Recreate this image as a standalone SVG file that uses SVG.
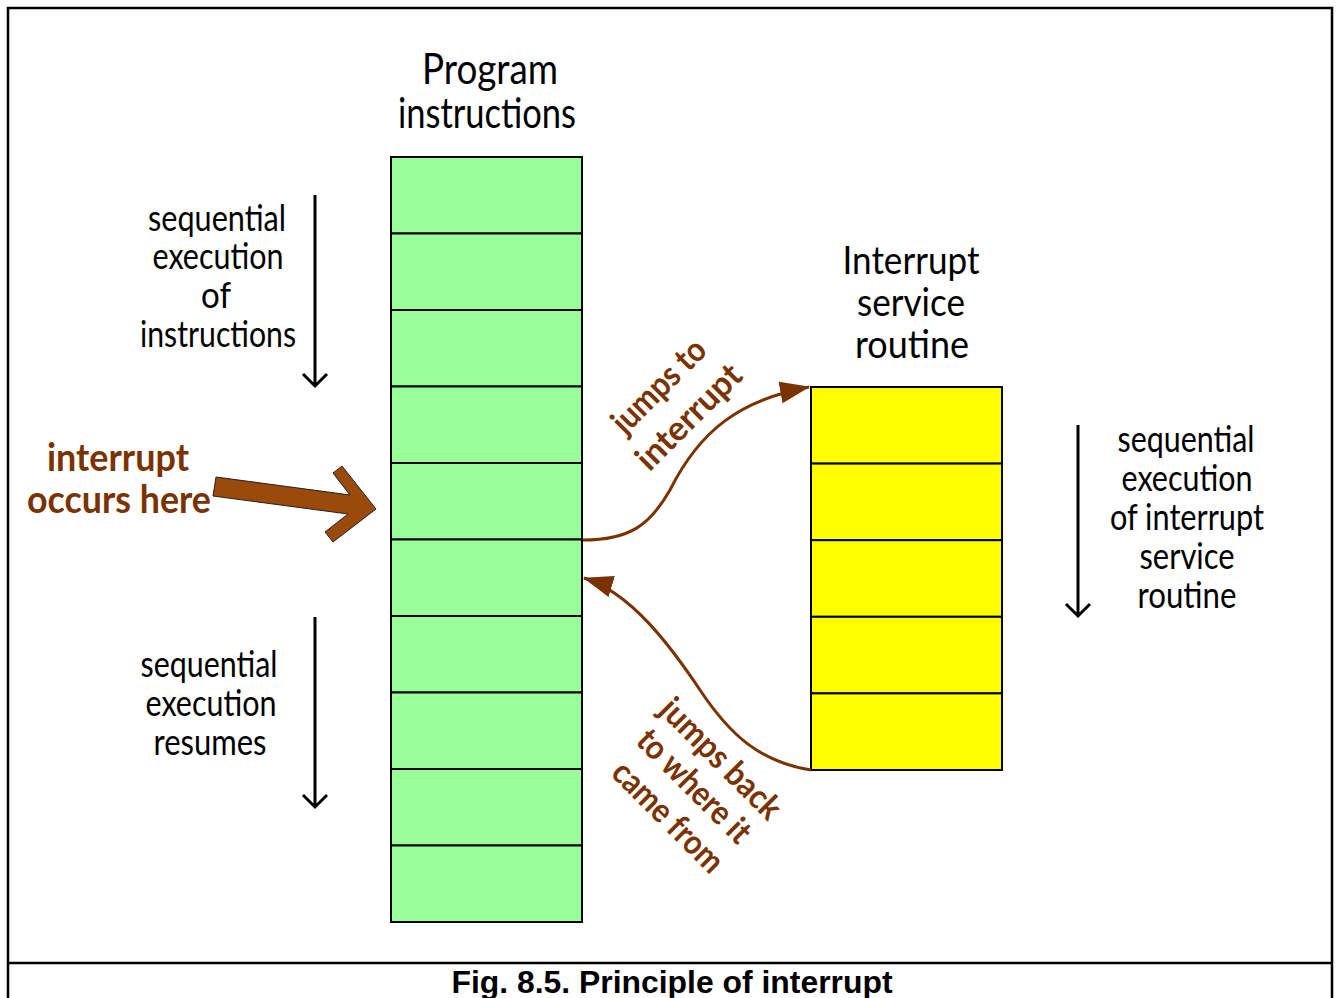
<svg xmlns="http://www.w3.org/2000/svg" width="1336" height="998" viewBox="0 0 1336 998">
<style>
.t{font-family:Lato,"Open Sans","Liberation Sans",sans-serif;fill:#000;text-anchor:middle}
.b{font-family:Lato,"Open Sans","Liberation Sans",sans-serif;fill:#7a3300;font-weight:bold;text-anchor:middle}
.g{fill:#99ff99;stroke:#000;stroke-width:2}
.y{fill:#ffff00;stroke:#000;stroke-width:2}
.ar{fill:none;stroke:#000;stroke-width:3}
.cv{fill:none;stroke:#7a3300;stroke-width:3}
</style>
<defs>
<marker id="bh" markerUnits="userSpaceOnUse" markerWidth="32" markerHeight="24" refX="29" refY="11" orient="auto">
<path d="M0,0 L30,11 L0,22 z" fill="#7a3300"/>
</marker>
</defs>
<rect width="1336" height="998" fill="#fff"/>
<g id="frame" fill="none" stroke="#000" stroke-width="2.5">
<path d="M8,998 V8 H1332 V998"/>
<path d="M8,963 H1332"/>
</g>
<g id="caption">
<text x="672" y="993" font-family="Liberation Sans,Arial,sans-serif" font-weight="bold" font-size="31" text-anchor="middle" textLength="441" lengthAdjust="spacingAndGlyphs">Fig. 8.5. Principle of interrupt</text>
</g>
<g id="program">
<rect class="g" x="391" y="157" width="191" height="76.5"/>
<rect class="g" x="391" y="233.5" width="191" height="76.5"/>
<rect class="g" x="391" y="310" width="191" height="76.5"/>
<rect class="g" x="391" y="386.5" width="191" height="76.5"/>
<rect class="g" x="391" y="463" width="191" height="76.5"/>
<rect class="g" x="391" y="539.5" width="191" height="76.5"/>
<rect class="g" x="391" y="616" width="191" height="76.5"/>
<rect class="g" x="391" y="692.5" width="191" height="76.5"/>
<rect class="g" x="391" y="769" width="191" height="76.5"/>
<rect class="g" x="391" y="845.5" width="191" height="76.5"/>
<text class="t" x="490" y="84" font-size="42" textLength="136" lengthAdjust="spacingAndGlyphs">Program</text>
<text class="t" x="487" y="128" font-size="42" textLength="178" lengthAdjust="spacingAndGlyphs">instructions</text>
</g>
<g id="isr">
<rect class="y" x="811" y="387" width="191" height="76.6"/>
<rect class="y" x="811" y="463.6" width="191" height="76.6"/>
<rect class="y" x="811" y="540.2" width="191" height="76.6"/>
<rect class="y" x="811" y="616.8" width="191" height="76.6"/>
<rect class="y" x="811" y="693.4" width="191" height="76.6"/>
<text class="t" x="911" y="274" font-size="39" textLength="137" lengthAdjust="spacingAndGlyphs">Interrupt</text>
<text class="t" x="911" y="316" font-size="39" textLength="108" lengthAdjust="spacingAndGlyphs">service</text>
<text class="t" x="912" y="358" font-size="39" textLength="114" lengthAdjust="spacingAndGlyphs">routine</text>
</g>
<g id="seq-top">
<text class="t" x="217" y="231" font-size="37" textLength="138" lengthAdjust="spacingAndGlyphs">sequential</text>
<text class="t" x="218" y="269" font-size="37" textLength="131" lengthAdjust="spacingAndGlyphs">execution</text>
<text class="t" x="216" y="308" font-size="37" textLength="30" lengthAdjust="spacingAndGlyphs">of</text>
<text class="t" x="218" y="347" font-size="37" textLength="156" lengthAdjust="spacingAndGlyphs">instructions</text>
<path class="ar" d="M315,195 V386 M303,374 L315,386 L327,374"/>
</g>
<g id="seq-bottom">
<text class="t" x="209" y="677" font-size="37" textLength="137" lengthAdjust="spacingAndGlyphs">sequential</text>
<text class="t" x="211" y="716" font-size="37" textLength="131" lengthAdjust="spacingAndGlyphs">execution</text>
<text class="t" x="210" y="755" font-size="37" textLength="113" lengthAdjust="spacingAndGlyphs">resumes</text>
<path class="ar" d="M315,617 V807 M303,795 L315,807 L327,795"/>
</g>
<g id="seq-isr">
<text class="t" x="1186" y="452" font-size="37" textLength="137" lengthAdjust="spacingAndGlyphs">sequential</text>
<text class="t" x="1187" y="491" font-size="37" textLength="131" lengthAdjust="spacingAndGlyphs">execution</text>
<text class="t" x="1187" y="530" font-size="37" textLength="154" lengthAdjust="spacingAndGlyphs">of interrupt</text>
<text class="t" x="1187" y="569" font-size="37" textLength="95" lengthAdjust="spacingAndGlyphs">service</text>
<text class="t" x="1187" y="608" font-size="37" textLength="99" lengthAdjust="spacingAndGlyphs">routine</text>
<path class="ar" d="M1078,425 V616 M1066,604 L1078,616 L1090,604"/>
</g>
<g id="interrupt-here">
<text class="b" x="118" y="471" font-size="39" textLength="142" lengthAdjust="spacingAndGlyphs">interrupt</text>
<text class="b" x="119" y="513" font-size="39" textLength="184" lengthAdjust="spacingAndGlyphs">occurs here</text>
<polygon points="216,477 350,495 333,473 342,466 376,509 333,542 325,532 348,514 213,496" fill="#9a4a0a" stroke="#222" stroke-width="1"/>
</g>
<g id="connectors">
<path class="cv" d="M583,540 C630,540 650,525 670,490 C700,430 740,400 809,387" marker-end="url(#bh)"/>
<path class="cv" d="M811,770 C760,762 730,735 700,690 C670,645 630,592 584,578" marker-end="url(#bh)"/>
</g>
<g id="labels">
<g transform="translate(667,394) rotate(-45)">
<text class="b" x="0" y="0" font-size="34" textLength="118" lengthAdjust="spacingAndGlyphs">jumps to</text>
</g>
<g transform="translate(697,425) rotate(-45)">
<text class="b" x="0" y="0" font-size="34" textLength="134" lengthAdjust="spacingAndGlyphs">interrupt</text>
</g>
<g transform="translate(713,767) rotate(45)">
<text class="b" x="0" y="0" font-size="34" textLength="156" lengthAdjust="spacingAndGlyphs">jumps back</text>
</g>
<g transform="translate(686,794) rotate(45)">
<text class="b" x="0" y="0" font-size="34" textLength="146" lengthAdjust="spacingAndGlyphs">to where it</text>
</g>
<g transform="translate(660,825) rotate(45)">
<text class="b" x="0" y="0" font-size="34" textLength="142" lengthAdjust="spacingAndGlyphs">came from</text>
</g>
</g>
</svg>
